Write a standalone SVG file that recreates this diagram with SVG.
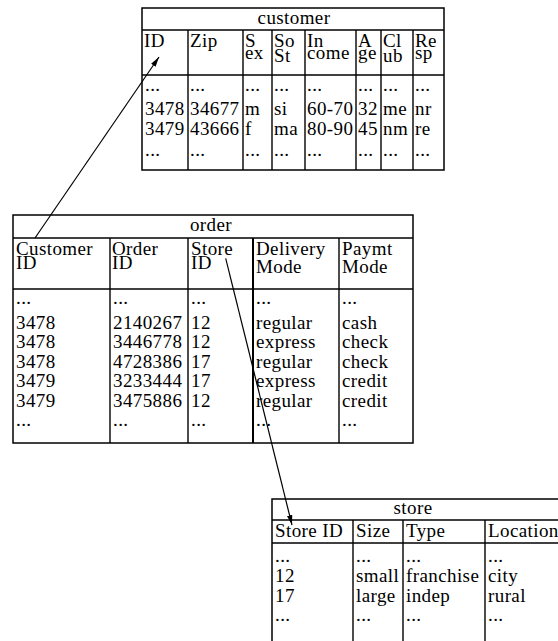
<svg xmlns="http://www.w3.org/2000/svg" width="558" height="641" viewBox="0 0 558 641">
<defs>
<style>
text{font-family:"Liberation Serif","Times New Roman",serif;font-size:19px;letter-spacing:0.4px;fill:#000}
.t{text-anchor:middle}
.b{fill:none;stroke:#000;stroke-width:1.5}
.l{stroke:#000;stroke-width:1.4}
.c{stroke:#000;stroke-width:1.2;fill:none}
</style>
<marker id="ah" viewBox="0 0 10 10" refX="10" refY="5" markerWidth="10" markerHeight="10" orient="auto" markerUnits="userSpaceOnUse"><path d="M0,2.3 L10,5 L0,7.7 z" fill="#000"/></marker>
</defs>
<rect width="558" height="641" fill="#fff"/>

<g id="customer">
<rect class="b" x="142" y="8" width="302" height="162"/>
<line class="l" x1="142" y1="30" x2="444" y2="30"/>
<line class="l" x1="142" y1="75" x2="444" y2="75"/>
<line class="l" x1="188" y1="30" x2="188" y2="170"/>
<line class="l" x1="243" y1="30" x2="243" y2="170"/>
<line class="l" x1="272" y1="30" x2="272" y2="170"/>
<line class="l" x1="305" y1="30" x2="305" y2="170"/>
<line class="l" x1="356" y1="30" x2="356" y2="170"/>
<line class="l" x1="381" y1="30" x2="381" y2="170"/>
<line class="l" x1="413" y1="30" x2="413" y2="170"/>
<text class="t" x="294" y="24">customer</text>
<text x="144" y="47">ID</text>
<text x="190" y="47">Zip</text>
<text x="245" y="47">S</text><text x="245" y="59">ex</text>
<text x="274" y="47">So</text><text x="274" y="62">St</text>
<text x="307" y="47">In</text><text x="307" y="59">come</text>
<text x="358" y="47">A</text><text x="358" y="59">ge</text>
<text x="383" y="47">Cl</text><text x="383" y="62">ub</text>
<text x="415" y="47">Re</text><text x="415" y="59">sp</text>
<text x="145" y="91">...</text><text x="190" y="91">...</text><text x="245" y="91">...</text><text x="274" y="91">...</text><text x="307" y="91">...</text><text x="358" y="91">...</text><text x="383" y="91">...</text><text x="415" y="91">...</text>
<text x="145" y="115">3478</text><text x="190" y="115">34677</text><text x="245" y="115">m</text><text x="274" y="115">si</text><text x="307" y="115">60-70</text><text x="358" y="115">32</text><text x="383" y="115">me</text><text x="415" y="115">nr</text>
<text x="145" y="134.5">3479</text><text x="190" y="134.5">43666</text><text x="245" y="134.5">f</text><text x="274" y="134.5">ma</text><text x="307" y="134.5">80-90</text><text x="358" y="134.5">45</text><text x="383" y="134.5">nm</text><text x="415" y="134.5">re</text>
<text x="145" y="156">...</text><text x="190" y="156">...</text><text x="245" y="156">...</text><text x="274" y="156">...</text><text x="307" y="156">...</text><text x="358" y="156">...</text><text x="383" y="156">...</text><text x="415" y="156">...</text>
</g>

<g id="order">
<rect class="b" x="13" y="215" width="400" height="228"/>
<line class="l" x1="13" y1="238" x2="413" y2="238"/>
<line class="l" x1="13" y1="289" x2="413" y2="289"/>
<line class="l" x1="110" y1="238" x2="110" y2="443"/>
<line class="l" x1="188" y1="238" x2="188" y2="443"/>
<line class="l" x1="253" y1="238" x2="253" y2="443" style="stroke-width:2"/>
<line class="l" x1="339" y1="238" x2="339" y2="443"/>
<text class="t" x="211" y="231">order</text>
<text x="16" y="255">Customer</text><text x="16" y="268.5">ID</text>
<text x="112" y="255">Order</text><text x="112" y="268.5">ID</text>
<text x="191" y="255">Store</text><text x="191" y="268.5">ID</text>
<text x="256" y="255">Delivery</text><text x="256" y="272.5">Mode</text>
<text x="342" y="255">Paymt</text><text x="342" y="272.5">Mode</text>
<text x="16" y="304">...</text><text x="113" y="304">...</text><text x="191" y="304">...</text><text x="256" y="304">...</text><text x="342" y="304">...</text>
<text x="16" y="328.5">3478</text><text x="113" y="328.5">2140267</text><text x="191" y="328.5">12</text><text x="256" y="328.5">regular</text><text x="342" y="328.5">cash</text>
<text x="16" y="348">3478</text><text x="113" y="348">3446778</text><text x="191" y="348">12</text><text x="256" y="348">express</text><text x="342" y="348">check</text>
<text x="16" y="367.5">3478</text><text x="113" y="367.5">4728386</text><text x="191" y="367.5">17</text><text x="256" y="367.5">regular</text><text x="342" y="367.5">check</text>
<text x="16" y="387">3479</text><text x="113" y="387">3233444</text><text x="191" y="387">17</text><text x="256" y="387">express</text><text x="342" y="387">credit</text>
<text x="16" y="406.5">3479</text><text x="113" y="406.5">3475886</text><text x="191" y="406.5">12</text><text x="256" y="406.5">regular</text><text x="342" y="406.5">credit</text>
<text x="16" y="426">...</text><text x="113" y="426">...</text><text x="191" y="426">...</text><text x="256" y="426">...</text><text x="342" y="426">...</text>
</g>

<g id="store">
<rect class="b" x="272" y="499" width="330" height="200"/>
<line class="l" x1="272" y1="520" x2="602" y2="520"/>
<line class="l" x1="272" y1="543" x2="602" y2="543"/>
<line class="l" x1="353" y1="520" x2="353" y2="660"/>
<line class="l" x1="403" y1="520" x2="403" y2="660"/>
<line class="l" x1="485" y1="520" x2="485" y2="660"/>
<text class="t" x="413" y="514">store</text>
<text x="275" y="537">Store ID</text>
<text x="356" y="537">Size</text>
<text x="406" y="537">Type</text>
<text x="488" y="537">Location</text>
<text x="275" y="562">...</text><text x="356" y="562">...</text><text x="406" y="562">...</text><text x="488" y="562">...</text>
<text x="275" y="582">12</text><text x="356" y="582">small</text><text x="406" y="582">franchise</text><text x="488" y="582">city</text>
<text x="275" y="601.5">17</text><text x="356" y="601.5">large</text><text x="406" y="601.5">indep</text><text x="488" y="601.5">rural</text>
<text x="275" y="621">...</text><text x="356" y="621">...</text><text x="406" y="621">...</text><text x="488" y="621">...</text>
</g>

<g id="connectors">
<line class="c" x1="35" y1="238" x2="159" y2="57" marker-end="url(#ah)"/>
<line class="c" x1="225.7" y1="258.3" x2="292" y2="525" marker-end="url(#ah)"/>
</g>
</svg>
